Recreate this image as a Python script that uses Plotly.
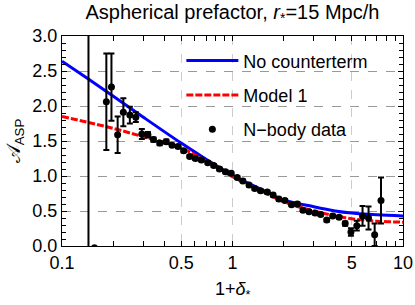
import plotly.graph_objects as go

# Model curves
curve_x = [0.1, 0.14, 0.2, 0.3, 0.5, 0.7, 1.0, 1.5, 2.0, 3.0, 4.0, 5.0, 7.0, 10.0]
no_counterterm = [2.64, 2.40, 2.14, 1.84, 1.47, 1.24, 1.01, 0.80, 0.66, 0.56, 0.50, 0.47, 0.445, 0.43]
model1 = [1.85, 1.77, 1.68, 1.56, 1.40, 1.21, 0.99, 0.78, 0.63, 0.50, 0.43, 0.39, 0.355, 0.34]

# N-body data
nbody_x = [0.143, 0.155, 0.182, 0.195, 0.212, 0.229, 0.250, 0.271, 0.294, 0.319, 0.344,
           0.374, 0.409, 0.442, 0.479, 0.517, 0.561, 0.606, 0.657, 0.716, 0.776, 0.839,
           0.910, 0.982, 1.066, 1.15, 1.25, 1.35, 1.46, 1.60, 1.73, 1.87, 2.03, 2.22,
           2.40, 2.59, 2.81, 3.05, 3.29, 3.57, 3.87, 4.22, 4.58, 4.95, 5.36, 5.79, 6.28,
           6.82, 7.43]
nbody_y = [-2.0, -0.025, 2.06, 2.27, 1.59, 1.91, 1.87, 1.84, 1.60, 1.59, 1.52,
           1.47, 1.49, 1.44, 1.42, 1.36, 1.28, 1.25, 1.23, 1.19, 1.15, 1.10,
           1.06, 1.04, 0.98, 0.93, 0.87, 0.82, 0.79, 0.77, 0.73, 0.67, 0.65, 0.59,
           0.60, 0.51, 0.49, 0.47, 0.45, 0.37, 0.43, 0.41, 0.32, 0.20, 0.29, 0.43, 0.40,
           0.16, 0.65]
nbody_err = [6.0, 0.0, 0.69, 0.48, 0.26, 0.20, 0.12, 0.07, 0.07, 0.04, 0.03,
             0.03, 0.03, 0.02, 0.02, 0.02, 0.02, 0.02, 0.02, 0.02, 0.02, 0.02,
             0.02, 0.02, 0.02, 0.02, 0.02, 0.02, 0.02, 0.02, 0.02, 0.02, 0.02, 0.02,
             0.02, 0.02, 0.02, 0.02, 0.02, 0.02, 0.02, 0.02, 0.03, 0.055, 0.07, 0.14, 0.165,
             0.16, 0.33]

x_major = [0.1, 0.5, 1, 5, 10]
x_major_text = ["0.1", "0.5", "1", "5", "10"]
x_minor = [0.2, 0.3, 0.4, 0.6, 0.7, 0.8, 0.9, 2, 3, 4, 6, 7, 8, 9]

FONT = "Liberation Sans, Arial, sans-serif"

fig = go.Figure()
fig.add_trace(go.Scatter(
    x=curve_x, y=no_counterterm, mode="lines", name="No counterterm",
    line=dict(color="#0000ff", width=3, shape="spline"), legendgroup="a"))
fig.add_trace(go.Scatter(
    x=curve_x, y=model1, mode="lines", name="Model 1",
    line=dict(color="#ff0000", width=3, dash="7px,2px", shape="spline"), legendgroup="b"))
fig.add_trace(go.Scatter(
    x=nbody_x, y=nbody_y, mode="markers", name="N\u2212body data",
    marker=dict(color="black", size=7),
    error_y=dict(type="data", array=nbody_err, color="black", thickness=2, width=3),
    legendgroup="c"))

axis_common = dict(
    showline=True, linecolor="black", linewidth=1, mirror="allticks",
    ticks="inside", ticklen=5, tickcolor="black", tickwidth=1,
    tickfont=dict(family=FONT, size=18, color="black"),
    zeroline=False, automargin=False,
)

fig.update_xaxes(
    type="log", range=[-1, 1],
    tickvals=x_major, ticktext=x_major_text,
    showgrid=True, gridcolor="#cccccc", griddash="dash", gridwidth=1,
    minor=dict(tickvals=x_minor, ticks="inside", ticklen=5, tickcolor="black", showgrid=False),
    **axis_common)
fig.update_yaxes(
    range=[0, 3], dtick=0.5, tickformat=".1f",
    showgrid=True, gridcolor="#999999", griddash="dash", gridwidth=1,
    minor=dict(dtick=0.1, ticks="inside", ticklen=4, tickcolor="black", showgrid=False),
    title=dict(text="𝒜<sub>ASP</sub>", font=dict(family=FONT, size=19, color="black"), standoff=6),
    **axis_common)

fig.add_annotation(
    text="1+<i>δ</i><sub>*</sub>", xref="paper", yref="paper", x=0.5, y=-0.21,
    xanchor="center", yanchor="middle", showarrow=False,
    font=dict(family=FONT, size=18, color="black"))

fig.update_layout(
    width=415, height=305,
    margin=dict(l=62, r=12, t=36, b=59),
    paper_bgcolor="white", plot_bgcolor="white",
    font=dict(family=FONT, size=18, color="black"),
    title=dict(text="Aspherical prefactor, <i>r</i><sub>*</sub>=15 Mpc/h",
               x=0.56, xanchor="center", y=0.96, yanchor="middle", yref="container",
               font=dict(family=FONT, size=20, color="black")),
    legend=dict(x=0.35, y=0.97, xanchor="left", yanchor="top",
                bgcolor="rgba(0,0,0,0)", traceorder="grouped", tracegroupgap=8,
                font=dict(family=FONT, size=18, color="black"), itemwidth=52),
    showlegend=True,
)

fig.write_html("out.html", config={"displayModeBar": False},
               post_script="document.body.style.margin='0px';")
